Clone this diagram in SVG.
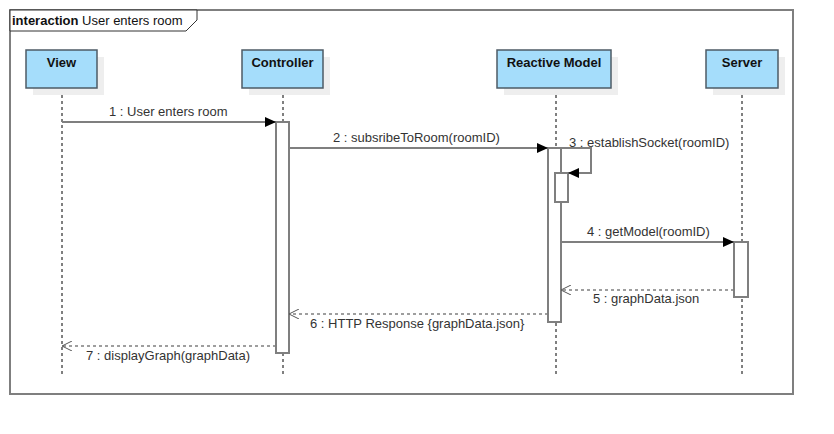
<svg xmlns="http://www.w3.org/2000/svg" width="834" height="434" viewBox="0 0 834 434">
<style>
.frame{fill:#fff;stroke:#7f7f7f;stroke-width:2}
.tab{fill:#fff;stroke:#333;stroke-width:1}
.shadow{fill:#eeeeee}
.box{fill:#a5ddfb;stroke:#4d5b66;stroke-width:1.5}
.name{font-family:"Liberation Sans",Arial,sans-serif;font-size:13px;font-weight:bold;fill:#111;text-anchor:middle}
.life{stroke:#000;stroke-width:1;stroke-dasharray:3,3;fill:none}
.act{fill:#fff;stroke:#7f7f7f;stroke-width:2}
.msg{stroke:#7f7f7f;stroke-width:2;fill:none}
.ret{stroke:#7f7f7f;stroke-width:1.5;stroke-dasharray:3,3;fill:none}
.lbl{font-family:"Liberation Sans",Arial,sans-serif;font-size:13px;fill:#333}
.title{font-family:"Liberation Sans",Arial,sans-serif;font-size:13px;fill:#111}
</style>
<defs>
<marker id="filled" markerWidth="12" markerHeight="10" refX="11" refY="5" orient="auto" markerUnits="userSpaceOnUse">
<path d="M0,0 L11,5 L0,10 Z" fill="#000"/>
</marker>
<marker id="open" markerWidth="12" markerHeight="10" refX="11" refY="5" orient="auto" markerUnits="userSpaceOnUse">
<path d="M1,0 L11,5 L1,10" fill="none" stroke="#555" stroke-width="1"/>
</marker>
</defs>
<rect width="834" height="434" fill="#fff"/>
<g id="frame">
<rect class="frame" x="10" y="10" width="783" height="384"/>
<polygon class="tab" points="10,10 197,10 197,20 186,31 10,31"/>
<text class="title" x="12" y="25"><tspan font-weight="bold">interaction</tspan> User enters room</text>
</g>
<g id="lifelines">
<line class="life" x1="62" y1="89" x2="62" y2="375"/>
<line class="life" x1="283" y1="89" x2="283" y2="375"/>
<line class="life" x1="556" y1="89" x2="556" y2="375"/>
<line class="life" x1="742" y1="89" x2="742" y2="375"/>
</g>
<g id="view">
<rect class="shadow" x="33" y="57" width="71" height="38"/>
<rect class="box" x="26" y="50" width="71" height="38"/>
<text class="name" x="61.5" y="67">View</text>
</g>
<g id="controller">
<rect class="shadow" x="249" y="57" width="81" height="38"/>
<rect class="box" x="242" y="50" width="81" height="38"/>
<text class="name" x="282.5" y="67">Controller</text>
</g>
<g id="reactive-model">
<rect class="shadow" x="504" y="57" width="114" height="38"/>
<rect class="box" x="497" y="50" width="114" height="38"/>
<text class="name" x="554" y="67">Reactive Model</text>
</g>
<g id="server">
<rect class="shadow" x="713" y="57" width="72" height="38"/>
<rect class="box" x="706" y="50" width="72" height="38"/>
<text class="name" x="742" y="67">Server</text>
</g>
<g id="activations">
<rect class="act" x="276" y="122" width="13" height="231"/>
<rect class="act" x="548" y="148" width="13" height="174"/>
<rect class="act" x="555" y="173" width="13" height="29"/>
<rect class="act" x="734" y="242" width="14" height="55"/>
</g>
<g id="connectors">
<line class="msg" x1="62" y1="122" x2="276" y2="122" marker-end="url(#filled)"/>
<text class="lbl" x="109" y="116">1 : User enters room</text>
<line class="msg" x1="289" y1="148" x2="548" y2="148" marker-end="url(#filled)"/>
<text class="lbl" x="333" y="142">2 : subsribeToRoom(roomID)</text>
<polyline class="msg" points="561,148 591,148 591,173 568,173" marker-end="url(#filled)"/>
<text class="lbl" x="569" y="147">3 : establishSocket(roomID)</text>
<line class="msg" x1="561" y1="242" x2="734" y2="242" marker-end="url(#filled)"/>
<text class="lbl" x="587" y="236">4 : getModel(roomID)</text>
<line class="ret" x1="734" y1="290" x2="561" y2="290" marker-end="url(#open)"/>
<text class="lbl" x="593" y="303">5 : graphData.json</text>
<line class="ret" x1="548" y1="314" x2="289" y2="314" marker-end="url(#open)"/>
<text class="lbl" x="310" y="328">6 : HTTP Response {graphData.json}</text>
<line class="ret" x1="276" y1="346" x2="62" y2="346" marker-end="url(#open)"/>
<text class="lbl" x="86" y="360">7 : displayGraph(graphData)</text>
</g>
</svg>
